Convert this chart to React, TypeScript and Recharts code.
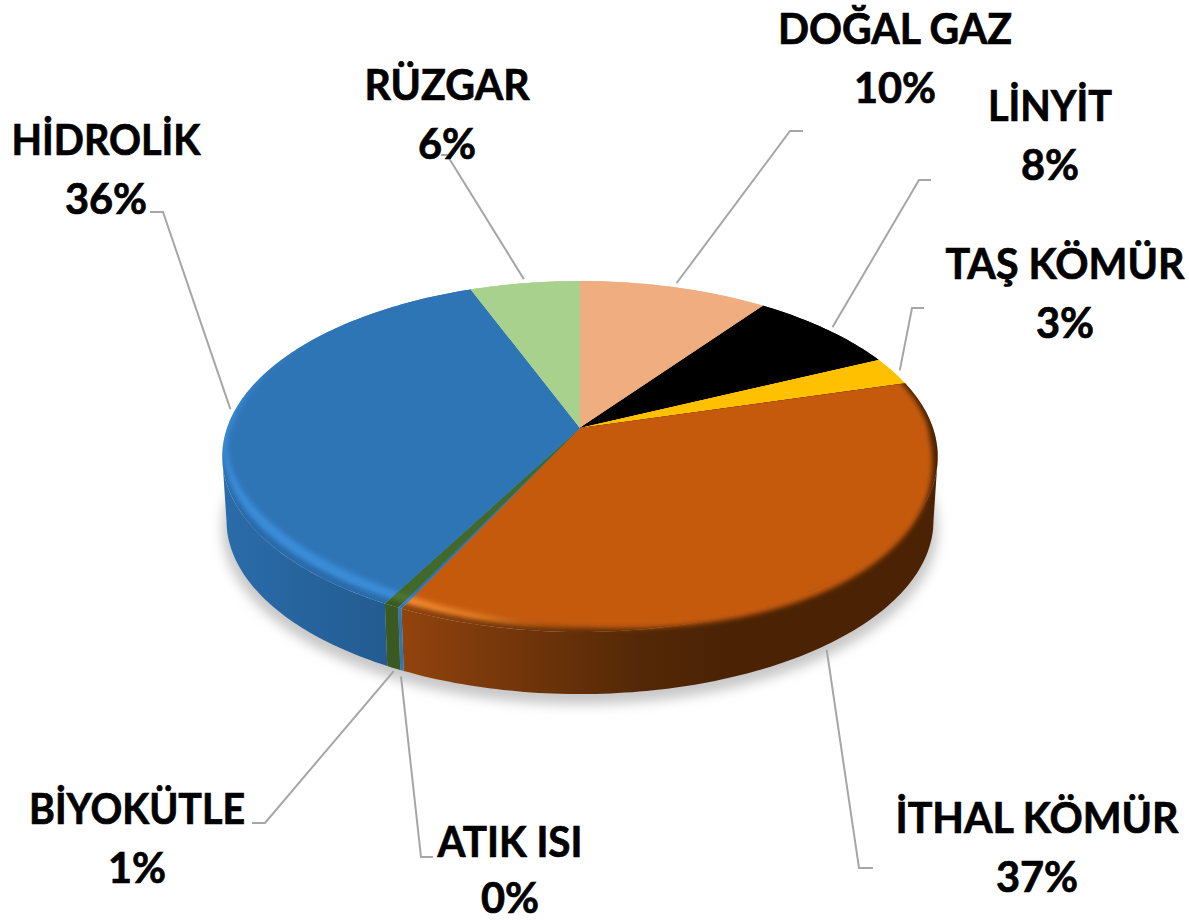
import { Pie, PieChart } from "recharts";

const names = ["DOĞAL GAZ", "LİNYİT", "TAŞ KÖMÜR", "İTHAL KÖMÜR", "ATIK ISI", "BİYOKÜTLE", "HİDROLİK", "RÜZGAR"];
const shares = [10, 8, 2.6, 36.5, 0.15, 0.6, 36.35, 5.8];
const topColors = ["#f0ad80", "#000000", "#ffc000", "#c55a11", "#2e75b6", "#43682b", "#2e75b6", "#a9d18e"];
const rimFills = ["#f0ad80", "#000000", "#ffc000", "url(#rimOrange)", "#3a8cd8", "#4d7430", "url(#rimBlue)", "#a9d18e"];
const edgeFills = ["#f0ad80", "#000000", "#ffc000", "url(#wallOrange)", "#2e75b6", "#3b5a22", "url(#edgeBlue)", "#a9d18e"];
const wallFills = ["#b07a58", "#000000", "#b08600", "url(#wallOrange)", "#2e75b6", "#3b5a22", "url(#wallBlue)", "#7a9666"];

// label centre, name baseline, name width, leader start nudge, leader elbow -> end
const labelX = [895, 1050, 1065, 1037, 510, 137, 106, 447];
const labelY = [44, 121, 279, 833, 857, 824, 155, 100];
const labelWidth = [234, 124, 239, 283, 145, 216, 189, 165];
const leaderNudge = [[2, -4], [6, -2], [7, -1], [-10, 10], [-1, 6], [0, 3], [-1, -8], [-1, -4]];
const elbows = [
  [[790, 131], [803, 131]],
  [[919, 180], [931, 180]],
  [[912, 308], [924, 308]],
  [[859, 868], [873, 868]],
  [[421, 857], [433, 857]],
  [[265, 823], [252, 823]],
  [[163, 212], [150, 212]],
  [[447, 155], [441, 155]],
];

const pieData = names.map((name, i) => ({ name, value: shares[i] }));

// flattening + perspective of the tilted disc
const SQUASH = 0.484;
const PERSPECTIVE = 0.1625;
const DEPTH = 64.5;
const FLOOR_SCALE = 0.988;
const RAD = Math.PI / 180;
// the disc is widest a little in front of its centre line
const WIDEST = Math.asin(PERSPECTIVE) / RAD;

function project(cx: number, cy: number, r: number, angle: number, scale = 1, dy = 0) {
  const u = Math.cos(angle * RAD);
  const v = Math.sin(angle * RAD);
  const w = 1 + PERSPECTIVE * v;
  return [cx + (scale * r * u) / w, cy + dy - (scale * r * SQUASH * v) / w];
}

function arcPoints(cx: number, cy: number, r: number, from: number, to: number, scale = 1, dy = 0) {
  const steps = Math.max(2, Math.ceil(Math.abs(to - from)));
  const pts: number[][] = [];
  for (let i = 0; i <= steps; i++) {
    pts.push(project(cx, cy, r, from + ((to - from) * i) / steps, scale, dy));
  }
  return pts;
}

// bevel boundary: the light comes from the left, so the front of it leans
function bevelDisc(cx: number, cy: number, r: number, scale: number, dy: number, lean: number) {
  return arcPoints(cx, cy, r, 0, 360, scale, dy).map((p, i) => {
    const front = Math.max(0, -Math.sin(i * RAD));
    return [p[0], p[1] + lean * (p[0] - cx) * Math.sqrt(front)];
  });
}

const toPath = (pts: number[][]) =>
  "M" + pts.map((p) => `${p[0].toFixed(1)},${p[1].toFixed(1)}`).join("L") + "Z";

// only the front of the side wall can be seen
function wallOutline(cx: number, cy: number, r: number, a: number, b: number) {
  const from = Math.min(a, -WIDEST);
  const to = Math.max(b, -180 + WIDEST);
  if (from <= to) return "";
  return toPath([...arcPoints(cx, cy, r, from, to), ...arcPoints(cx, cy, r, to, from, FLOOR_SCALE, DEPTH)]);
}

function ShadowSlice(props: any) {
  const { cx, cy, outerRadius, name } = props;
  if (name !== names[0]) return <g />;
  return (
    <path
      d={toPath(arcPoints(cx, cy, outerRadius, 0, 360, 1.0, DEPTH + 8))}
      fill="#c8c8c8"
      filter="url(#softShadow)"
    />
  );
}

function WallSlice(props: any) {
  const { cx, cy, outerRadius, startAngle, endAngle, name } = props;
  return <path d={wallOutline(cx, cy, outerRadius, startAngle, endAngle)} fill={wallFills[names.indexOf(name)]} />;
}

function TopSlice(props: any) {
  const { cx, cy, outerRadius, startAngle, endAngle, name } = props;
  const i = names.indexOf(name);
  const outline = toPath([[cx, cy], ...arcPoints(cx, cy, outerRadius, startAngle, endAngle)]);
  return (
    <g>
      <clipPath id={`slice-${i}`}>
        <path d={outline} />
        <path d={wallOutline(cx, cy, outerRadius, startAngle, endAngle)} />
      </clipPath>
      <path d={outline} fill={edgeFills[i]} />
      <g clipPath={`url(#slice-${i})`}>
        <path d={toPath(bevelDisc(cx, cy, outerRadius, 0.995, -2, 0.02))} fill={rimFills[i]} filter="url(#edgeBlur)" />
        <path d={toPath(bevelDisc(cx, cy, outerRadius, 0.985, -2, 0.06))} fill={topColors[i]} filter="url(#rimBlur)" />
      </g>
    </g>
  );
}

function SliceLabel(props: any) {
  const { cx, cy, outerRadius, midAngle, name, value } = props;
  const i = names.indexOf(name);
  const front = Math.sin(midAngle * RAD) < 0;
  const edge = front
    ? project(cx, cy, outerRadius, midAngle, FLOOR_SCALE, DEPTH)
    : project(cx, cy, outerRadius, midAngle);
  const start = [edge[0] + leaderNudge[i][0], edge[1] + leaderNudge[i][1]];
  const line = [start, ...elbows[i]].map((p) => p.join(",")).join(" ");
  const textStyle = {
    textAnchor: "middle" as const,
    fontFamily: "Lato",
    fontWeight: 700,
    fontSize: 41.5,
    fill: "#000",
    stroke: "#000",
    strokeWidth: 0.7,
  };
  return (
    <g>
      <polyline points={line} fill="none" stroke="#a6a6a6" strokeWidth={2} />
      <text x={labelX[i]} y={labelY[i]} textLength={labelWidth[i]} lengthAdjust="spacingAndGlyphs" {...textStyle}>
        {name}
      </text>
      <text x={labelX[i]} y={Math.min(labelY[i] + 59, 913)} {...textStyle}>
        {Math.round(value)}%
      </text>
    </g>
  );
}

export default function App() {
  const pieProps = {
    data: pieData,
    dataKey: "value",
    nameKey: "name",
    cx: 580,
    cy: 428,
    innerRadius: 0,
    outerRadius: 353,
    startAngle: 90,
    endAngle: -270,
    stroke: "none",
    isAnimationActive: false,
  };

  return (
    <div style={{ position: "absolute", left: 0, top: 0, width: 1189, height: 922, background: "#fff", overflow: "hidden" }}>
      <PieChart width={1189} height={922} margin={{ top: 0, right: 0, bottom: 0, left: 0 }}>
        <defs>
          <filter id="softShadow" x="-10%" y="-20%" width="120%" height="140%">
            <feGaussianBlur stdDeviation="6" />
          </filter>
          <filter id="rimBlur" x="-5%" y="-5%" width="110%" height="110%">
            <feGaussianBlur stdDeviation="2.5" />
          </filter>
          <filter id="edgeBlur" x="-5%" y="-5%" width="110%" height="110%">
            <feGaussianBlur stdDeviation="2" />
          </filter>
          <linearGradient id="wallOrange" gradientUnits="userSpaceOnUse" x1="400" y1="0" x2="938" y2="0">
            <stop offset="0" stopColor="#93440d" />
            <stop offset="0.15" stopColor="#7c3a0b" />
            <stop offset="0.45" stopColor="#532807" />
            <stop offset="0.6" stopColor="#4b2304" />
            <stop offset="1" stopColor="#4b2304" />
          </linearGradient>
          <linearGradient id="wallBlue" gradientUnits="userSpaceOnUse" x1="222" y1="0" x2="400" y2="0">
            <stop offset="0" stopColor="#2a6cab" />
            <stop offset="1" stopColor="#225a8e" />
          </linearGradient>
          <linearGradient id="rimOrange" gradientUnits="userSpaceOnUse" x1="400" y1="0" x2="720" y2="0">
            <stop offset="0" stopColor="#f08a30" />
            <stop offset="0.25" stopColor="#e27a24" />
            <stop offset="0.45" stopColor="#a0500f" />
            <stop offset="0.625" stopColor="#633109" />
            <stop offset="1" stopColor="#4b2304" />
          </linearGradient>
          <linearGradient id="rimBlue" gradientUnits="userSpaceOnUse" x1="0" y1="340" x2="0" y2="430">
            <stop offset="0" stopColor="#2e75b6" />
            <stop offset="1" stopColor="#3a8cd8" />
          </linearGradient>
          <linearGradient id="edgeBlue" gradientUnits="userSpaceOnUse" x1="0" y1="340" x2="0" y2="480">
            <stop offset="0" stopColor="#2e75b6" />
            <stop offset="0.7" stopColor="#3a8cd8" />
            <stop offset="0.95" stopColor="#2a6cab" />
          </linearGradient>
        </defs>
        <Pie {...pieProps} shape={ShadowSlice} />
        <Pie {...pieProps} shape={WallSlice} />
        <Pie {...pieProps} shape={TopSlice} label={SliceLabel} labelLine={false} />
      </PieChart>
    </div>
  );
}
